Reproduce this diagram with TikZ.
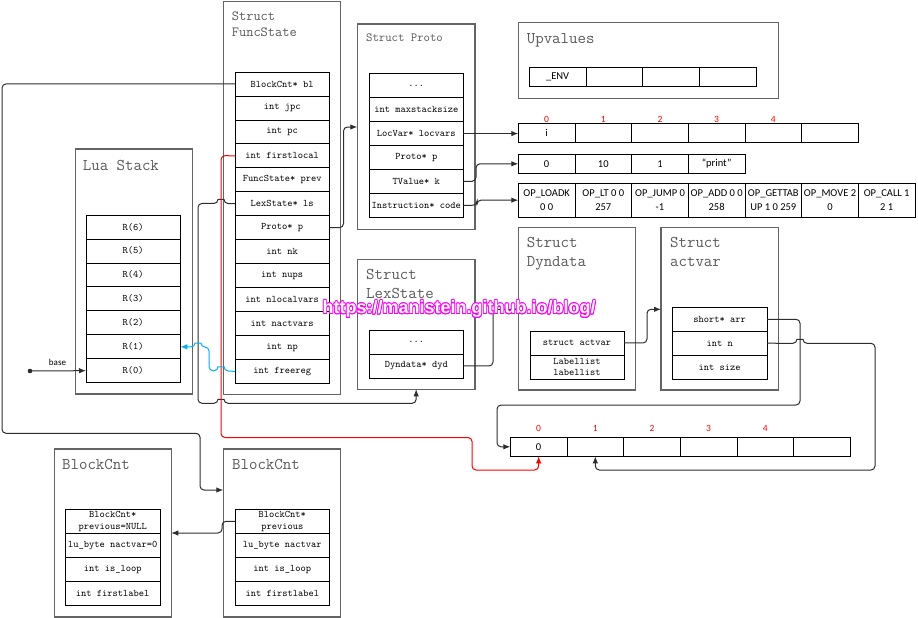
\documentclass[tikz,border=0pt]{standalone}
\usepackage{fontspec}
\usepackage{xcolor}
\usepackage{contour}
\usepackage{tikz}
\usetikzlibrary{calc}
\usetikzlibrary{positioning}
\usetikzlibrary{arrows.meta}

\newfontfamily\cellsans{Carlito}
\newfontfamily\marksans{Liberation Sans}
\contourlength{0.8pt}

\definecolor{titlegray}{RGB}{89,89,89}
\definecolor{framegray}{RGB}{100,100,100}
\definecolor{linkgray}{RGB}{45,45,45}
\definecolor{freeblue}{RGB}{0,176,240}
\definecolor{markpink}{RGB}{255,0,255}

\tikzset{
  frame/.style={draw=framegray, line width=1.2pt, anchor=north west, inner sep=0pt, outer sep=0pt},
  boxtitle/.style={anchor=north west, inner sep=0pt, align=left, text=titlegray,
    font=\ttfamily\fontsize{16.4}{19}\selectfont},
  field/.style={draw, line width=0.8pt, minimum width=94.3pt, minimum height=23.95pt,
    inner sep=0pt, outer sep=0pt, align=center, anchor=north west,
    font=\ttfamily\fontsize{10}{12.5}\selectfont},
  cell/.style={draw, line width=0.8pt, minimum width=56.67pt, minimum height=19pt,
    inner sep=0pt, outer sep=0pt, align=center, anchor=north west,
    font=\cellsans\fontsize{10.5}{13.5}\selectfont},
  idx/.style={text=red, inner sep=0pt, font=\cellsans\fontsize{9.5}{10}\selectfont},
  link/.style={draw=linkgray, line width=1pt, rounded corners=4pt,
    -{Latex[length=7pt,width=5.5pt]}},
}

\begin{document}
\begin{tikzpicture}[x=1pt,y=-1pt]
\useasboundingbox (0,0) rectangle (918,618);

% Lua Stack
\node[frame, minimum width=117pt, minimum height=245pt] (luastack) at (75.3,149) {};
\node[boxtitle] (luastacktitle) at (82.7,160.5) {Lua Stack};
\node[field] (stk6) at (86,215) {R(6)};
\node[field, below=0pt of stk6] (stk5) {R(5)};
\node[field, below=0pt of stk5] (stk4) {R(4)};
\node[field, below=0pt of stk4] (stk3) {R(3)};
\node[field, below=0pt of stk3] (stk2) {R(2)};
\node[field, below=0pt of stk2] (stk1) {R(1)};
\node[field, below=0pt of stk1] (stk0) {R(0)};

% Struct FuncState
\node[frame, minimum width=117pt, minimum height=393pt] (funcstate) at (223.7,1.3) {};
\node[boxtitle, font=\ttfamily\fontsize{14}{16}\selectfont] (funcstatetitle) at (231.7,11.5) {Struct\\FuncState};
\node[field] (fsbl) at (235,72) {BlockCnt* bl};
\node[field, below=0pt of fsbl] (fsjpc) {int jpc};
\node[field, below=0pt of fsjpc] (fspc) {int pc};
\node[field, below=0pt of fspc] (fsfirst) {int firstlocal};
\node[field, below=0pt of fsfirst] (fsprev) {FuncState* prev};
\node[field, below=0pt of fsprev] (fsls) {LexState* ls};
\node[field, below=0pt of fsls] (fsp) {Proto* p};
\node[field, below=0pt of fsp] (fsnk) {int nk};
\node[field, below=0pt of fsnk] (fsnups) {int nups};
\node[field, below=0pt of fsnups] (fsnloc) {int nlocalvars};
\node[field, below=0pt of fsnloc] (fsnact) {int nactvars};
\node[field, below=0pt of fsnact] (fsnp) {int np};
\node[field, below=0pt of fsnp] (fsfree) {int freereg};

% Struct Proto
\node[frame, minimum width=117.7pt, minimum height=205.5pt] (proto) at (357.3,24) {};
\node[boxtitle, font=\ttfamily\fontsize{12.4}{14}\selectfont] (prototitle) at (366,33.5) {Struct Proto};
\node[field, minimum width=94pt] (prdots) at (369.3,73.7) {...};
\node[field, minimum width=94pt, below=0pt of prdots] (prmax) {int maxstacksize};
\node[field, minimum width=94pt, below=0pt of prmax] (prlocvars) {LocVar* locvars};
\node[field, minimum width=94pt, below=0pt of prlocvars] (prp) {Proto* p};
\node[field, minimum width=94pt, below=0pt of prp] (prk) {TValue* k};
\node[field, minimum width=94pt, below=0pt of prk] (prcode) {Instruction* code};

% Upvalues
\node[frame, minimum width=260pt, minimum height=75.6pt] (upvalues) at (518.3,22.7) {};
\node[boxtitle] (upvaluestitle) at (526.7,33.3) {Upvalues};
\node[cell] (uv0) at (529.3,67.7) {\_ENV};
\node[cell, right=0pt of uv0] (uv1) {};
\node[cell, right=0pt of uv1] (uv2) {};
\node[cell, right=0pt of uv2] (uv3) {};

% locvars, k, code
\node[cell] (lv0) at (518.3,123.3) {i};
\node[cell, right=0pt of lv0] (lv1) {};
\node[cell, right=0pt of lv1] (lv2) {};
\node[cell, right=0pt of lv2] (lv3) {};
\node[cell, right=0pt of lv3] (lv4) {};
\node[cell, right=0pt of lv4] (lv5) {};
\node[idx, above=0.8pt of lv0] (lvn0) {0};
\node[idx, above=0.8pt of lv1] (lvn1) {1};
\node[idx, above=0.8pt of lv2] (lvn2) {2};
\node[idx, above=0.8pt of lv3] (lvn3) {3};
\node[idx, above=0.8pt of lv4] (lvn4) {4};

\node[cell] (k0) at (518.3,154.3) {0};
\node[cell, right=0pt of k0] (k1) {10};
\node[cell, right=0pt of k1] (k2) {1};
\node[cell, right=0pt of k2] (k3) {“print”};

\node[cell, minimum height=33.7pt] (code0) at (518.3,183.3) {OP\_LOADK\\0 0};
\node[cell, minimum height=33.7pt, right=0pt of code0] (code1) {OP\_LT 0 0\\257};
\node[cell, minimum height=33.7pt, right=0pt of code1] (code2) {OP\_JUMP 0\\-1};
\node[cell, minimum height=33.7pt, right=0pt of code2] (code3) {OP\_ADD 0 0\\258};
\node[cell, minimum height=33.7pt, right=0pt of code3] (code4) {OP\_GETTAB\\UP 1 0 259};
\node[cell, minimum height=33.7pt, right=0pt of code4] (code5) {OP\_MOVE 2\\0};
\node[cell, minimum height=33.7pt, right=0pt of code5] (code6) {OP\_CALL 1\\2 1};

% Struct LexState
\node[frame, minimum width=117.7pt, minimum height=130pt] (lexstate) at (357.3,259.3) {};
\node[boxtitle] (lexstatetitle) at (366,269) {Struct\\LexState};
\node[field, minimum width=94pt] (lsdots) at (369.3,330) {...};
\node[field, minimum width=94pt, below=0pt of lsdots] (lsdyd) {Dyndata* dyd};

% Struct Dyndata
\node[frame, minimum width=117pt, minimum height=162.7pt] (dyndata) at (518.3,227.3) {};
\node[boxtitle] (dyndatatitle) at (526.7,237.3) {Struct\\Dyndata};
\node[field, minimum width=94pt] (dyactvar) at (530,331) {struct actvar};
\node[field, minimum width=94pt, below=0pt of dyactvar, font=\ttfamily\fontsize{10}{11.5}\selectfont] (dylabel) {Labellist\\labellist};

% Struct actvar
\node[frame, minimum width=117.3pt, minimum height=162.7pt] (actvar) at (661,227.3) {};
\node[boxtitle] (actvartitle) at (670,237.3) {Struct\\actvar};
\node[field, minimum width=94.7pt] (avarr) at (672.3,307.3) {short* arr};
\node[field, minimum width=94.7pt, below=0pt of avarr] (avn) {int n};
\node[field, minimum width=94.7pt, below=0pt of avn] (avsize) {int size};

% actvar arr
\node[cell] (ac0) at (510.3,437.3) {0};
\node[cell, right=0pt of ac0] (ac1) {};
\node[cell, right=0pt of ac1] (ac2) {};
\node[cell, right=0pt of ac2] (ac3) {};
\node[cell, right=0pt of ac3] (ac4) {};
\node[cell, right=0pt of ac4] (ac5) {};
\node[idx, above=6pt of ac0] (acn0) {0};
\node[idx, above=6pt of ac1] (acn1) {1};
\node[idx, above=6pt of ac2] (acn2) {2};
\node[idx, above=6pt of ac3] (acn3) {3};
\node[idx, above=6pt of ac4] (acn4) {4};

% BlockCnt
\node[frame, minimum width=117pt, minimum height=168pt] (blockcnta) at (54.3,449) {};
\node[boxtitle] (blockcntatitle) at (62,459.3) {BlockCnt};
\node[field, minimum width=94.7pt] (bcaprev) at (65.3,509.3) {BlockCnt*\\previous=NULL};
\node[field, minimum width=94.7pt, below=0pt of bcaprev] (bcanact) {lu\_byte nactvar=0};
\node[field, minimum width=94.7pt, below=0pt of bcanact] (bcaloop) {int is\_loop};
\node[field, minimum width=94.7pt, below=0pt of bcaloop] (bcafirst) {int firstlabel};

\node[frame, minimum width=117.4pt, minimum height=168pt] (blockcntb) at (223.3,449) {};
\node[boxtitle] (blockcntbtitle) at (232,459.3) {BlockCnt};
\node[field, minimum width=94pt] (bcbprev) at (235.3,509.3) {BlockCnt*\\previous};
\node[field, minimum width=94pt, below=0pt of bcbprev] (bcbnact) {lu\_byte nactvar};
\node[field, minimum width=94pt, below=0pt of bcbnact] (bcbloop) {int is\_loop};
\node[field, minimum width=94pt, below=0pt of bcbloop] (bcbfirst) {int firstlabel};

% base
\coordinate (basedot) at (30,371);
\fill [linkgray] (basedot) circle (2.3pt);
\draw [link] (basedot) -- (stk0.west);
\node[inner sep=0pt, font=\cellsans\fontsize{9}{10}\selectfont] (baselabel) at (57.5,362) {base};

% links out of FuncState
\draw [link] (fsbl.west) -- (2,83.95) |- (200,433.3) |- ($(blockcntb.north west)+(0,41)$);
\draw [link] (fsls.west) -- (224,203.45) .. controls (224,199.5) and (218,199.5) .. (218,203.45)
    -- (198,203.45) -- (198,403.3) -- (218,403.3) .. controls (218,399.3) and (224,399.3) .. (224,403.3)
    -| (lexstate.south);
\draw [link, draw=red] (fsfirst.west) -- (221,155.65) -- (221,437.5) -- (472,437.5) -- (472,470) -| (ac0.south);
\draw [link, draw=freeblue] (fsfree.west) -- (224,370.75) .. controls (224,366.8) and (218,366.8) .. (218,370.75)
    -- (209,370.75) -- (209,347) -- (201,347) .. controls (201,343) and (195,343) .. (195,347) -- (stk1.east);
\draw [link] (fsp.east) -| (343.5,127) -- ($(proto.north west)+(0,103)$);

% links out of Proto
\draw [link] (prlocvars.east) -- (prlocvars.east -| lv0.west);
\draw [link] (prk.east) -- (476,181.25) |- (k0.west);
\draw [link] (prcode.east) -- (477,205.15) |- (code0.west);

% LexState, Dyndata, actvar
\draw [link] (lsdyd.east) -- (493,366) |- ($(dyndata.north west)+(0,82)$);
\draw [link] (dyactvar.east) -- (647,343) |- ($(actvar.north west)+(0,82)$);
\draw [link] (avarr.east) -- (800,319.3) |- (497,405) |- (ac0.west);
\draw [link] (avn.east) -- (797,343.3) .. controls (797,339.3) and (803,339.3) .. (803,343.3)
    -- (875,343.3) -- (875,470) -| (ac1.south);

% BlockCnt previous
\draw [link] (bcbprev.west) -| (222,533) -- (blockcnta.east);

\node[inner sep=0pt, font=\marksans\bfseries\fontsize{18}{20}\selectfont] (watermark) at (459,309.5)
    {\contour{markpink}{\textcolor{white}{https://manistein.github.io/blog/}}};
\end{tikzpicture}
\end{document}
